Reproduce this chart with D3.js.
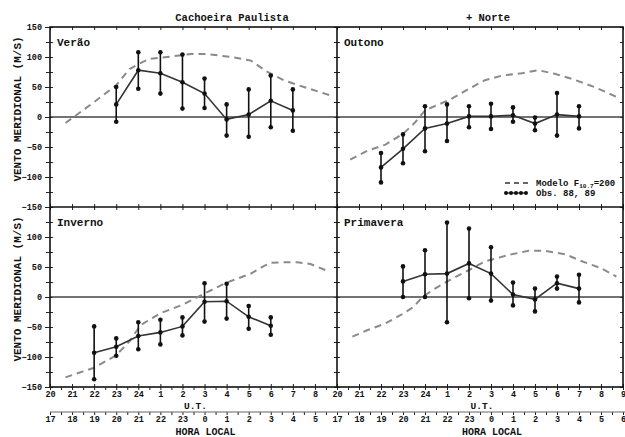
<!DOCTYPE html>
<html>
<head>
<meta charset="utf-8">
<script src="https://cdn.jsdelivr.net/npm/d3@7"></script>
<style>
  html, body { margin: 0; padding: 0; background: #fff; }
  svg { display: block; }
  text { font-family: "Liberation Mono", "DejaVu Sans Mono", monospace; font-weight: bold; fill: #111; }
</style>
</head>
<body>
<svg id="chart" width="625" height="437"></svg>
<script>
// Hours are counted continuously in U.T. from 20 h (25 = 1 h of the next day).
const utTickLabels = ["20","21","22","23","24","1","2","3","4","5","6","7","8","9"];
const localTickLabels = ["17","18","19","20","21","22","23","0","1","2","3","4","5","6"];
const yTickValues = [-150, -100, -50, 0, 50, 100, 150];
const columnTitles = ["Cachoeira Paulista", "+ Norte"];
const seasonNames = ["Verão", "Outono", "Inverno", "Primavera"];

// Observations (mean with upper / lower limits), m/s
const veraoHours = [23, 24, 25, 26, 27, 28, 29, 30, 31];
const veraoMean  = [21, 78, 73, 58, 39, -4, 4, 27, 11];
const veraoHigh  = [50, 108, 108, 104, 64, 21, 46, 69, 46];
const veraoLow   = [-8, 47, 39, 14, 15, -31, -33, -17, -23];

const outonoHours = [22, 23, 24, 25, 26, 27, 28, 29, 30, 31];
const outonoMean  = [-84, -53, -19, -11, 1, 1, 3, -11, 4, 1];
const outonoHigh  = [-60, -29, 18, 21, 18, 22, 16, -1, 40, 18];
const outonoLow   = [-109, -77, -57, -40, -17, -20, -8, -22, -31, -19];

const invernoHours = [22, 23, 24, 25, 26, 27, 28, 29, 30];
const invernoMean  = [-93, -83, -65, -59, -49, -8, -7, -33, -48];
const invernoHigh  = [-49, -69, -42, -38, -34, 23, 22, -15, -34];
const invernoLow   = [-137, -98, -87, -79, -64, -41, -36, -53, -63];

const primaveraHours = [23, 24, 25, 26, 27, 28, 29, 30, 31];
const primaveraMean  = [26, 38, 39, 56, 39, 4, -4, 23, 14];
const primaveraHigh  = [51, 78, 124, 114, 83, 24, 14, 34, 37];
const primaveraLow   = [0, 0, -42, -2, -6, -14, -24, 14, -9];

// Model curves (F10.7 = 200)
const veraoModelHours = [20.7, 21, 22, 23, 23.6, 24, 24.5, 25.3, 26.4, 27.1, 28.2, 29.1, 29.85, 30.6, 31.5, 32.7];
const veraoModel      = [-10, -2, 25, 53, 80, 88, 97, 100, 105, 105, 100, 94, 75, 61, 50, 36];
const outonoModelHours = [20.6, 21.4, 22.2, 23, 23.5, 24, 24.5, 25.2, 26, 26.7, 27.5, 28.4, 29.15, 29.9, 30.8, 31.7, 32.8];
const outonoModel      = [-71, -56, -46, -28, -11, 11, 19, 30, 47, 61, 69, 73, 78, 72, 62, 50, 32];
const invernoModelHours = [20.7, 21.5, 22, 23, 23.6, 24.1, 25, 26, 27, 28, 29.1, 29.7, 30, 30.6, 31.2, 31.8, 32.6];
const invernoModel      = [-134, -124, -118, -97, -74, -47, -27, -13, 6, 24, 39, 52, 57, 58, 58, 55, 43];
const primaveraModelHours = [20.7, 21.4, 22.2, 22.9, 23.5, 23.85, 24.45, 25.2, 26, 26.7, 27.8, 28.7, 29.45, 30.4, 31.1, 32, 32.7];
const primaveraModel      = [-66, -55, -44, -30, -16, -1, 14, 30, 45, 59, 70, 77, 77, 71, 60, 48, 34];

const panels = [
  { name: seasonNames[0], col: 0, row: 0, hours: veraoHours, mean: veraoMean, high: veraoHigh, low: veraoLow, mHours: veraoModelHours, model: veraoModel },
  { name: seasonNames[1], col: 1, row: 0, hours: outonoHours, mean: outonoMean, high: outonoHigh, low: outonoLow, mHours: outonoModelHours, model: outonoModel },
  { name: seasonNames[2], col: 0, row: 1, hours: invernoHours, mean: invernoMean, high: invernoHigh, low: invernoLow, mHours: invernoModelHours, model: invernoModel },
  { name: seasonNames[3], col: 1, row: 1, hours: primaveraHours, mean: primaveraMean, high: primaveraHigh, low: primaveraLow, mHours: primaveraModelHours, model: primaveraModel }
];

const svg = d3.select("#chart");
const colX = [[50, 337], [337, 623]];
const rowY = [[27, 207], [207, 387]];
const xScales = colX.map(r => d3.scaleLinear().domain([20, 33]).range(r));
const yScales = rowY.map(r => d3.scaleLinear().domain([-150, 150]).range([r[1], r[0]]));
const hourTicks = d3.range(20, 34);
const halfTicks = d3.range(20.5, 33, 1);
const minorY = d3.range(-150, 151, 25);

function styleAxis(g, width) {
  g.select(".domain").remove();
  g.selectAll(".tick line").attr("stroke", "#222").attr("stroke-width", width || 1);
}

// panels
panels.forEach(p => {
  const x = xScales[p.col], y = yScales[p.row];
  const g = svg.append("g");
  const [x0, x1] = colX[p.col], [y0, y1] = rowY[p.row];

  // inner ticks on all four sides
  g.append("g").attr("transform", `translate(${x0},0)`)
    .call(d3.axisRight(y).tickValues(minorY).tickSize(3).tickFormat(""))
    .call(s => styleAxis(s));
  g.append("g").attr("transform", `translate(${x1},0)`)
    .call(d3.axisLeft(y).tickValues(minorY).tickSize(3).tickFormat(""))
    .call(s => styleAxis(s));
  g.append("g").attr("transform", `translate(0,${y0})`)
    .call(d3.axisBottom(x).tickValues(hourTicks).tickSize(3).tickFormat(""))
    .call(s => styleAxis(s));
  g.append("g").attr("transform", `translate(0,${y1})`)
    .call(d3.axisTop(x).tickValues(hourTicks).tickSize(3).tickFormat(""))
    .call(s => styleAxis(s));

  // zero line
  g.append("line").attr("x1", x0).attr("x2", x1).attr("y1", y(0)).attr("y2", y(0))
    .attr("stroke", "#444").attr("stroke-width", 1.3);

  // model
  const modelPts = p.mHours.map((h, i) => [h, p.model[i]]);
  g.append("path").datum(modelPts)
    .attr("d", d3.line().x(d => x(d[0])).y(d => y(d[1])))
    .attr("fill", "none").attr("stroke", "#8a8a8a").attr("stroke-width", 2)
    .attr("stroke-dasharray", "7,5");

  // error bars
  const obs = p.hours.map((h, i) => ({ h, m: p.mean[i], hi: p.high[i], lo: p.low[i] }));
  g.selectAll(".err").data(obs).enter().append("line")
    .attr("x1", d => x(d.h)).attr("x2", d => x(d.h))
    .attr("y1", d => y(d.hi)).attr("y2", d => y(d.lo))
    .attr("stroke", "#111").attr("stroke-width", 1.6);
  // mean line
  g.append("path").datum(obs)
    .attr("d", d3.line().x(d => x(d.h)).y(d => y(d.m)))
    .attr("fill", "none").attr("stroke", "#333").attr("stroke-width", 1.6);
  // markers
  obs.forEach(d => {
    [d.hi, d.m, d.lo].forEach(v => {
      g.append("circle").attr("cx", x(d.h)).attr("cy", y(v)).attr("r", 2.3).attr("fill", "#111");
    });
  });

  // season label
  g.append("text").attr("x", x0 + 7).attr("y", y0 + 19).attr("font-size", 11).text(p.name);
});

// panel frame
svg.append("rect").attr("x", 50).attr("y", 27).attr("width", 573).attr("height", 360)
  .attr("fill", "none").attr("stroke", "#111").attr("stroke-width", 1.6);
svg.append("line").attr("x1", 337).attr("x2", 337).attr("y1", 27).attr("y2", 387)
  .attr("stroke", "#111").attr("stroke-width", 1.6);
svg.append("line").attr("x1", 50).attr("x2", 623).attr("y1", 207).attr("y2", 207)
  .attr("stroke", "#111").attr("stroke-width", 1.6);

// left value axes (the shared -150 / 150 boundary is labelled once)
rowY.forEach((r, i) => {
  const y = yScales[i];
  const labelled = i === 0 ? yTickValues : yTickValues.filter(v => v !== 150);
  svg.append("g").attr("transform", "translate(50,0)")
    .call(d3.axisLeft(y).tickValues(minorY).tickSize(4).tickFormat(""))
    .call(s => styleAxis(s));
  svg.append("g").attr("transform", "translate(50,0)")
    .call(d3.axisLeft(y).tickValues(labelled).tickSize(5).tickPadding(3))
    .call(s => { styleAxis(s); s.selectAll("text").attr("font-size", 8.5); });
  svg.append("text")
    .attr("transform", `translate(21,${(r[0] + r[1]) / 2 - 8}) rotate(-90)`)
    .attr("text-anchor", "middle").attr("font-size", 11).text("VENTO MERIDIONAL (M/S)");
});

// time axes (U.T. and local time = U.T. - 3 h)
colX.forEach((r, c) => {
  const x = xScales[c];
  const ticks = c === 0 ? d3.range(20, 33) : d3.range(20, 34);
  svg.append("g").attr("transform", "translate(0,387)")
    .call(d3.axisBottom(x).tickValues(halfTicks).tickSize(3).tickFormat(""))
    .call(s => styleAxis(s));
  svg.append("g").attr("transform", "translate(0,387)")
    .call(d3.axisBottom(x).tickValues(ticks).tickSize(3).tickPadding(1).tickFormat(h => utTickLabels[h - 20]))
    .call(s => { styleAxis(s); s.selectAll("text").attr("font-size", 8.5); });
  svg.append("text").attr("x", (r[0] + r[1]) / 2 + 2).attr("y", 409)
    .attr("text-anchor", "middle").attr("font-size", 9.5).text("U.T.");

  svg.append("g").attr("transform", "translate(0,412)")
    .call(d3.axisBottom(x).tickValues(halfTicks).tickSize(3).tickFormat(""))
    .call(s => styleAxis(s));
  svg.append("g").attr("transform", "translate(0,412)")
    .call(d3.axisBottom(x).tickValues(ticks).tickSize(3).tickPadding(1).tickFormat(h => localTickLabels[h - 20]))
    .call(s => { styleAxis(s); s.selectAll("text").attr("font-size", 8.5); });
  svg.append("text").attr("x", (r[0] + r[1]) / 2 + 12).attr("y", 435)
    .attr("text-anchor", "middle").attr("font-size", 10).text("HORA LOCAL");
});
svg.append("line").attr("x1", 50).attr("x2", 625).attr("y1", 412).attr("y2", 412)
  .attr("stroke", "#666").attr("stroke-width", 1);

// column titles
svg.append("text").attr("x", 232).attr("y", 21).attr("text-anchor", "middle").attr("font-size", 10.5).text(columnTitles[0]);
svg.append("text").attr("x", 488).attr("y", 21).attr("text-anchor", "middle").attr("font-size", 10.5).text(columnTitles[1]);

// legend
const lg = svg.append("g");
lg.append("line").attr("x1", 505).attr("x2", 529).attr("y1", 183).attr("y2", 183)
  .attr("stroke", "#333").attr("stroke-width", 1.5).attr("stroke-dasharray", "5,4");
const t1 = lg.append("text").attr("x", 536).attr("y", 186).attr("font-size", 9);
t1.append("tspan").text("Modelo F");
t1.append("tspan").attr("font-size", 6).attr("dy", 2).text("10.7");
t1.append("tspan").attr("dy", -2).text("=200");
d3.range(5).forEach(i => {
  lg.append("circle").attr("cx", 506 + i * 5).attr("cy", 193).attr("r", 2).attr("fill", "#111");
});
lg.append("line").attr("x1", 506).attr("x2", 526).attr("y1", 193).attr("y2", 193).attr("stroke", "#111").attr("stroke-width", 1.2);
lg.append("text").attr("x", 536).attr("y", 196).attr("font-size", 9).text("Obs. 88, 89");
</script>
</body>
</html>
